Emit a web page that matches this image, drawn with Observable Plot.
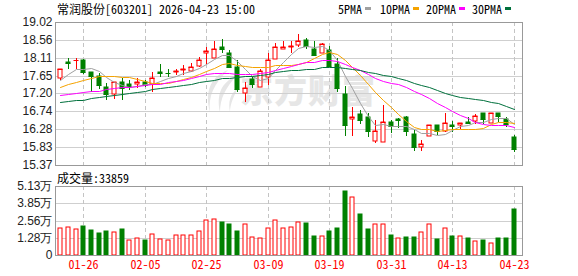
<!DOCTYPE html>
<html><head><meta charset="utf-8">
<script src="https://cdn.jsdelivr.net/npm/d3@7"></script>
<script src="https://cdn.jsdelivr.net/npm/@observablehq/plot@0.6"></script>
<style>
body{margin:0;background:#fff;}
#wrap{position:relative;width:578px;height:276px;overflow:hidden;}
#wrap svg{position:absolute;left:0;top:0;}
#wrap #logo{left:198px;top:68px;}
.t{position:absolute;font-family:"Noto Sans Mono CJK SC","Noto Sans CJK SC",monospace;font-size:12px;line-height:12px;color:#000;white-space:pre;}
.dash{position:absolute;width:6px;height:3px;}
#wm{position:absolute;left:240px;top:71px;font-family:"Noto Sans CJK SC";font-weight:900;font-size:33px;line-height:36px;color:#e6e6e6;letter-spacing:1px;white-space:pre;}
</style></head><body><div id="wrap">
<svg id="logo" width="42" height="46" viewBox="0 0 42 46"><g fill="#e6e6e6">
<path d="M30 2 C14 8 6 22 12 44 C10 28 16 16 30 2 Z"/>
<path d="M38 8 C24 14 18 26 22 44 C22 30 28 20 38 8 Z"/>
<path d="M40 20 C32 26 30 34 32 44 C32 36 36 28 40 20 Z"/>
</g></svg>
<div id="wm">东方财富</div></div>
<script>
const title = "常润股份[603201] 2026-04-23 15:00";
const dates = ["01-21","01-22","01-23","01-26","01-27","01-28","01-29","01-30","02-02","02-03",
"02-04","02-05","02-06","02-09","02-10","02-11","02-12","02-13","02-24","02-25",
"02-26","02-27","03-02","03-03","03-04","03-05","03-06","03-09","03-10","03-11",
"03-12","03-13","03-16","03-17","03-18","03-19","03-20","03-23","03-24","03-25",
"03-26","03-27","03-30","03-31","04-01","04-02","04-03","04-07","04-08","04-09",
"04-10","04-13","04-14","04-15","04-16","04-17","04-20","04-21","04-22","04-23"];
const open = [17.60,17.99,18.04,18.06,17.75,17.64,17.37,17.18,17.49,17.44,
17.43,17.50,17.45,17.74,17.73,17.74,17.79,17.78,17.90,18.22,
18.11,18.38,18.22,17.88,17.22,17.56,17.37,17.61,18.07,18.33,
18.38,18.43,18.55,18.34,18.24,18.30,17.95,17.18,16.54,16.67,
16.59,15.99,15.95,16.46,16.55,16.59,16.17,15.84,16.10,16.39,
16.24,16.38,16.40,16.47,16.50,16.69,16.45,16.69,16.55,16.08];
const high = [17.83,18.11,18.09,18.07,17.75,17.72,17.47,17.50,17.58,17.54,
17.58,17.55,17.75,17.94,17.81,17.81,17.92,17.98,18.13,18.38,
18.54,18.58,18.30,18.06,17.50,17.64,17.83,18.22,18.49,18.53,
18.53,18.72,18.60,18.53,18.49,18.40,18.09,17.38,16.84,16.78,
16.69,16.52,16.89,16.52,16.56,16.61,16.27,16.01,16.39,16.39,
16.69,16.50,16.44,16.59,16.67,16.69,16.69,16.69,16.59,16.14];
const low = [17.53,17.83,17.83,17.69,17.24,17.31,17.03,17.05,17.03,17.28,
17.33,17.37,17.24,17.61,17.62,17.66,17.66,17.75,17.88,17.96,
18.09,18.22,17.86,17.24,16.99,17.34,17.35,17.41,18.07,18.32,
18.22,18.38,18.34,18.15,18.22,17.88,17.24,16.10,16.12,16.41,
16.08,15.94,15.95,16.18,16.31,16.11,15.73,15.74,16.10,16.14,
16.22,16.20,16.28,16.41,16.42,16.42,16.45,16.48,16.33,15.70];
const close = [17.83,17.98,18.05,17.75,17.64,17.41,17.18,17.49,17.34,17.39,
17.50,17.41,17.58,17.71,17.72,17.76,17.83,17.86,18.06,18.27,
18.34,18.32,17.88,17.30,17.33,17.43,17.78,18.06,18.37,18.38,
18.42,18.53,18.41,18.17,18.47,17.90,17.33,16.39,16.59,16.52,
16.23,16.25,16.47,16.37,16.53,16.25,15.84,15.91,16.39,16.24,
16.44,16.36,16.44,16.43,16.63,16.55,16.69,16.61,16.41,15.78];
const volume = [19800,20600,19100,21600,18600,16100,17800,16900,19300,11200,
12400,11200,15400,11600,11200,14600,14600,14600,17600,26000,
26500,24500,22800,17800,22800,13100,12400,19800,26000,19800,
20600,24300,23500,14100,13900,17800,20100,47600,42900,30500,
19300,22800,22800,14900,12600,13400,13400,16900,22800,11900,
19800,14100,13900,12600,10200,11200,8700,12600,12600,33859];
const ma5 = [17.54,17.69,17.83,17.83,17.85,17.77,17.61,17.49,17.41,17.36,
17.38,17.43,17.44,17.52,17.58,17.64,17.72,17.78,17.85,17.96,
18.07,18.17,18.17,18.02,17.83,17.65,17.54,17.58,17.79,18.00,
18.20,18.35,18.42,18.38,18.40,18.30,18.06,17.65,17.34,16.95,
16.61,16.40,16.41,16.37,16.37,16.37,16.29,16.18,16.18,16.13,
16.16,16.27,16.37,16.38,16.46,16.48,16.55,16.58,16.58,16.41];
const ma10 = [17.37,17.43,17.49,17.55,17.59,17.63,17.64,17.63,17.62,17.61,
17.57,17.52,17.47,17.47,17.47,17.51,17.57,17.61,17.68,17.77,
17.85,17.95,17.98,17.93,17.90,17.86,17.86,17.88,17.91,17.92,
17.93,17.95,18.00,18.09,18.20,18.25,18.20,18.04,17.86,17.67,
17.45,17.23,17.03,16.85,16.66,16.49,16.34,16.30,16.28,16.25,
16.27,16.28,16.28,16.28,16.29,16.32,16.41,16.48,16.48,16.43];
const ma20 = [17.16,17.19,17.21,17.23,17.25,17.27,17.30,17.33,17.35,17.37,
17.39,17.41,17.43,17.45,17.48,17.51,17.55,17.59,17.64,17.69,
17.71,17.73,17.72,17.70,17.68,17.69,17.72,17.74,17.80,17.84,
17.89,17.95,17.99,18.01,18.05,18.06,18.03,17.96,17.88,17.80,
17.69,17.59,17.52,17.47,17.43,17.37,17.27,17.17,17.07,16.96,
16.86,16.75,16.65,16.57,16.48,16.41,16.38,16.39,16.38,16.34];
const ma30 = [16.98,17.00,17.02,17.04,17.07,17.10,17.13,17.16,17.19,17.21,
17.24,17.27,17.30,17.33,17.36,17.39,17.42,17.45,17.49,17.52,
17.55,17.58,17.60,17.62,17.63,17.65,17.67,17.70,17.74,17.77,
17.79,17.80,17.82,17.83,17.86,17.87,17.88,17.84,17.82,17.79,
17.75,17.71,17.67,17.63,17.59,17.54,17.47,17.40,17.35,17.28,
17.22,17.15,17.10,17.07,17.05,17.02,16.99,16.94,16.87,16.79];
const maNames = ["5PMA","10PMA","20PMA","30PMA"];
const maColors = ["#a0a0a0","#f5a300","#ff00ff","#00703c"];
const priceTicks = [15.37,15.83,16.28,16.74,17.20,17.65,18.11,18.56,19.02];
const volTicks = [0,12825,25650,38475,51300];
const volTickLabels = ["0","1.28万","2.56万","3.85万","5.13万"];
const dateTicks = ["01-26","02-05","02-25","03-09","03-19","03-31","04-13","04-23"];
const volPrefix = "成交量:";

const RED = "#ff0000", GREEN = "#008000";
const rows = dates.map((date, i) => ({
  i, date, open: open[i], high: high[i], low: low[i], close: close[i], volume: volume[i],
  up: close[i] >= open[i],
  volUp: i === 0 ? close[i] >= open[i] : close[i] >= close[i - 1]
}));
const tickIdx = dateTicks.map(t => dates.indexOf(t));
const maSeries = [ma5, ma10, ma20, ma30];
const xOpt = {type: "linear", domain: [-0.68, 60.08], round: true, axis: null};
const numFont = "Liberation Sans, Arial, sans-serif";
const cjkFont = "Noto Sans Mono CJK SC, Noto Sans CJK SC, monospace";

const price = Plot.plot({
  width: 578, height: 276, marginLeft: 55, marginRight: 56, marginTop: 22, marginBottom: 111,
  style: {background: "transparent", overflow: "visible"},
  x: xOpt,
  y: {domain: [15.37, 19.02], round: true, axis: null},
  color: {type: "identity"},
  marks: [
    Plot.ruleY(priceTicks, {stroke: "#cfcfcf"}),
    Plot.ruleX(tickIdx, {stroke: "#c4c4c4", strokeDasharray: "4,3"}),
    Plot.ruleX(rows, {x: "i", y1: "low", y2: "high", stroke: d => d.up ? RED : GREEN}),
    Plot.rect(rows, {x1: "i", x2: "i", y1: "open", y2: "close", insetLeft: -2, insetRight: -2,
      fill: d => d.up ? "#ffffff" : GREEN, stroke: d => d.up ? RED : GREEN}),
    Plot.ruleY(rows, {y: "close", x1: "i", x2: "i", insetLeft: -2.5, insetRight: -2.5, stroke: d => d.up ? RED : GREEN}),
    ...maSeries.map((s, k) => Plot.line(s, {x: (d, i) => i, y: d => d, stroke: maColors[k], strokeWidth: 1})),
    Plot.frame({stroke: "#999"}),
    Plot.axisY(priceTicks, {label: null, tickSize: 0, tickPadding: 3, tickFormat: d => d.toFixed(2), fontSize: 12, fontFamily: numFont, fill: "#222"})
  ]
});

const vol = Plot.plot({
  width: 578, height: 276, marginLeft: 55, marginRight: 56, marginTop: 186, marginBottom: 21,
  style: {background: "transparent", overflow: "visible"},
  x: xOpt,
  y: {domain: [0, 51300], round: true, axis: null},
  color: {type: "identity"},
  marks: [
    Plot.ruleY(volTicks, {stroke: "#cfcfcf"}),
    Plot.ruleX(tickIdx, {stroke: "#c4c4c4", strokeDasharray: "4,3"}),
    Plot.rect(rows, {x1: "i", x2: "i", y1: 0, y2: "volume", insetLeft: -2, insetRight: -2,
      fill: d => d.volUp ? "#ffffff" : GREEN, stroke: d => d.volUp ? RED : GREEN}),
    Plot.frame({stroke: "#999"}),
    Plot.axisY(volTicks, {label: null, tickSize: 0, tickPadding: 3, tickFormat: (d, i) => volTickLabels[i], fontSize: 12, fontFamily: numFont, fill: "#222"}),
    Plot.axisX(tickIdx, {label: null, tickSize: 0, tickPadding: 5, tickFormat: i => dates[i], fontSize: 12, fontFamily: cjkFont, fill: RED})
  ]
});

const wrap = document.getElementById("wrap");
wrap.appendChild(price);
wrap.appendChild(vol);

function addText(txt, left, top, color) {
  const d = document.createElement("div");
  d.className = "t"; d.textContent = txt;
  d.style.left = left + "px"; d.style.top = top + "px";
  if (color) d.style.color = color;
  wrap.appendChild(d);
  return d;
}
addText(title, 57, 3);
addText(volPrefix + volume[volume.length - 1], 57, 172);
const legendX = [338, 380, 426, 472];
maNames.forEach((n, k) => {
  addText(n, legendX[k], 3);
  const s = document.createElement("div");
  s.className = "dash";
  s.style.left = (legendX[k] + n.length * 6 + 3) + "px";
  s.style.top = "7px";
  s.style.background = maColors[k];
  wrap.appendChild(s);
});
</script></body></html>
